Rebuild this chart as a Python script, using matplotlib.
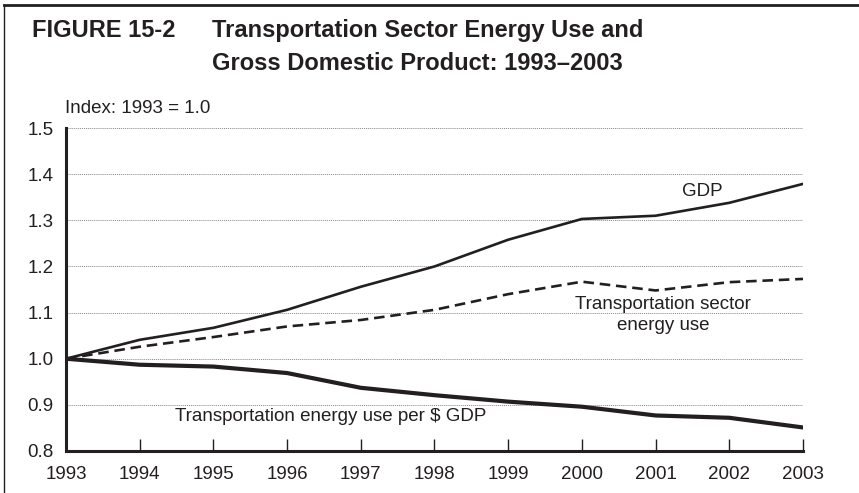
import matplotlib
matplotlib.use('Agg')
import matplotlib.pyplot as plt
from matplotlib.lines import Line2D

plt.rcParams['font.family'] = ['Liberation Sans', 'DejaVu Sans']

years = [1993, 1994, 1995, 1996, 1997, 1998, 1999, 2000, 2001, 2002, 2003]
gdp = [1.0, 1.041, 1.067, 1.106, 1.156, 1.200, 1.258, 1.303, 1.310, 1.338, 1.379]
energy_use = [1.0, 1.026, 1.047, 1.070, 1.084, 1.106, 1.140, 1.167, 1.148, 1.166, 1.173]
energy_per_gdp = [1.0, 0.987, 0.983, 0.969, 0.937, 0.921, 0.907, 0.896, 0.877, 0.872, 0.851]
yticks = [0.8, 0.9, 1.0, 1.1, 1.2, 1.3, 1.4, 1.5]

ink = '#231f20'

fig = plt.figure(figsize=(8.59, 4.93), dpi=100)
ax = fig.add_axes([0.0768, 0.0852, 0.858, 0.655])

ax.plot(years, gdp, color=ink, lw=1.9, solid_joinstyle='round')
ax.plot(years, energy_use, color=ink, lw=1.9, ls=(0, (4, 2.2)))
ax.plot(years, energy_per_gdp, color=ink, lw=3.0, solid_joinstyle='round')

ax.set_xlim(1993, 2003)
ax.set_ylim(0.8, 1.5)
ax.set_xticks(years)
ax.set_yticks(yticks)
ax.set_yticklabels(['%.1f' % v for v in yticks])
ax.yaxis.grid(True, ls=(0, (1, 1)), color='#888888', lw=0.7)
ax.set_axisbelow(True)

for side in ['top', 'right']:
    ax.spines[side].set_visible(False)
for side in ['left', 'bottom']:
    ax.spines[side].set_linewidth(2.2)
    ax.spines[side].set_color(ink)

ax.tick_params(axis='x', direction='in', length=9, width=1.0, color=ink,
               labelsize=13.5, pad=11, labelcolor=ink)
ax.tick_params(axis='y', length=0, labelsize=13.5, pad=9, labelcolor=ink)

ax.text(2001.64, 1.362, 'GDP', fontsize=13.5, ha='center', va='center', color=ink)
ax.text(2001.1, 1.094, 'Transportation sector\nenergy use', fontsize=13.5,
        ha='center', va='center', linespacing=1.3, color=ink)
ax.text(1994.48, 0.874, 'Transportation energy use per $ GDP', fontsize=13.5,
        ha='left', va='center', color=ink)

fig.text(65 / 859, 1 - 113 / 493, 'Index: 1993 = 1.0', fontsize=13.5, ha='left',
         va='baseline', color=ink)

fig.text(32 / 859, 1 - 37 / 493, 'FIGURE 15-2', fontsize=17, fontweight='bold',
         ha='left', va='baseline', color=ink)
fig.text(212 / 859, 1 - 37 / 493, 'Transportation Sector Energy Use and', fontsize=17,
         fontweight='bold', ha='left', va='baseline', color=ink)
fig.text(212 / 859, 1 - 70 / 493, 'Gross Domestic Product: 1993\u20132003', fontsize=17,
         fontweight='bold', ha='left', va='baseline', color=ink)

# frame: top rule and left rule
fig.add_artist(Line2D([4 / 859, 1], [1 - 4.5 / 493, 1 - 4.5 / 493], transform=fig.transFigure,
                      color=ink, lw=2.0))
fig.add_artist(Line2D([4 / 859, 4 / 859], [0, 1 - 4.5 / 493], transform=fig.transFigure,
                      color=ink, lw=1.0))

fig.savefig('out.png', dpi=100)
